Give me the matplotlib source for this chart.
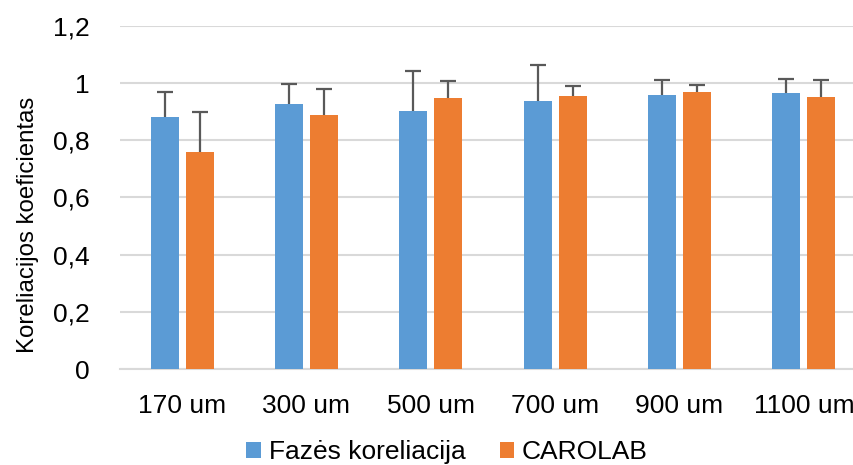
import numpy as np
import matplotlib
matplotlib.use("Agg")
import matplotlib.pyplot as plt
from matplotlib.patches import Patch

plt.rcParams['font.family'] = ['Liberation Sans', 'DejaVu Sans']

categories = ["170 um", "300 um", "500 um", "700 um", "900 um", "1100 um"]
faze_values = [0.882, 0.928, 0.902, 0.936, 0.958, 0.967]
faze_err = [0.087, 0.069, 0.141, 0.127, 0.052, 0.047]
carolab_values = [0.759, 0.887, 0.948, 0.955, 0.969, 0.952]
carolab_err = [0.139, 0.094, 0.061, 0.036, 0.026, 0.058]
series_names = ["Fazės koreliacija", "CAROLAB"]
y_ticks = [0, 0.2, 0.4, 0.6, 0.8, 1.0, 1.2]
y_tick_labels = ["0", "0,2", "0,4", "0,6", "0,8", "1", "1,2"]

blue = "#5B9BD5"
orange = "#ED7D31"
err_color = "#595959"
grid_color = "#D9D9D9"

W, H = 854, 465
fig = plt.figure(figsize=(W / 100, H / 100), dpi=100)
ax = fig.add_axes([120 / W, 96 / H, (866 - 120) / W, (369 - 26) / H])

x = np.arange(len(categories))
width = 0.225
offset = 0.14

err_kw = dict(ecolor=err_color, elinewidth=1.6, capsize=6, capthick=1.6)
containers = [
    ax.bar(x - offset, faze_values, width, color=blue, zorder=3,
           yerr=[np.zeros(len(faze_err)), faze_err], error_kw=err_kw),
    ax.bar(x + offset, carolab_values, width, color=orange, zorder=3,
           yerr=[np.zeros(len(carolab_err)), carolab_err], error_kw=err_kw),
]
# plus-only error bars: hide the lower caps
for c in containers:
    caplines = c.errorbar.lines[1]
    if len(caplines) == 2:
        caplines[0].set_visible(False)

ax.set_xlim(-0.5, len(categories) - 0.5)
ax.set_ylim(0, 1.2)
ax.set_yticks(y_ticks)
ax.set_yticklabels(y_tick_labels)
ax.set_xticks(x)
ax.set_xticklabels(categories)

ax.yaxis.grid(True, color=grid_color, linewidth=1.5, zorder=0)
ax.set_axisbelow(True)
for side in ["top", "right", "left"]:
    ax.spines[side].set_visible(False)
ax.spines["bottom"].set_color(grid_color)
ax.spines["bottom"].set_linewidth(1.5)

ax.tick_params(axis="both", length=0, labelsize=19, colors="#000000")
ax.tick_params(axis="x", pad=18)
ax.tick_params(axis="y", pad=22)

ax.set_ylabel("Koreliacijos koeficientas", fontsize=17.3)
ax.yaxis.set_label_coords(-0.109, 0.42)

handles = [Patch(facecolor=blue, edgecolor="none"),
           Patch(facecolor=orange, edgecolor="none")]
fig.legend(handles, series_names, loc="center", ncol=2, frameon=False,
           bbox_to_anchor=(447 / W, 1 - 452 / H), fontsize=19,
           handlelength=0.55, handleheight=0.55, handletextpad=0.3,
           columnspacing=1.3, borderaxespad=0, borderpad=0)

fig.savefig("out.png", dpi=100)
